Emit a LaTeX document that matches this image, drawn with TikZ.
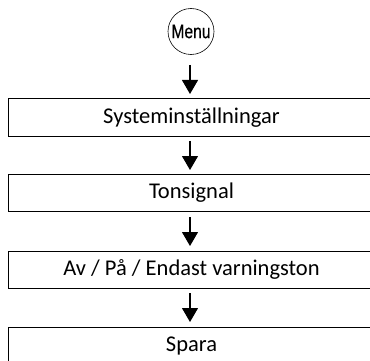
\documentclass[tikz,border=0pt]{standalone}
\usepackage{fontspec}
\usepackage{graphicx}
\setmainfont{Carlito}
\newfontfamily\menufont[FakeBold=0.5]{Liberation Sans}
\usetikzlibrary{arrows.meta}
\newcommand{\boxlabel}[1]{\raisebox{-2pt}{#1}}
\tikzset{
  x=1pt,y=-1pt,
  flowbox/.style={draw=black,line width=0.8pt,minimum width=366pt,minimum height=37.5pt,inner sep=0pt,font=\fontsize{22.5}{24}\selectfont,text=black},
  menunode/.style={circle,draw=black,line width=0.6pt,minimum size=46pt,inner sep=0pt,font=\menufont\fontsize{19.5}{22}\selectfont},
  flowarrow/.style={draw=black,line width=1.1pt,-{Triangle[length=14pt,width=16pt]}}
}
\begin{document}
\begin{tikzpicture}
\useasboundingbox (0,0) rectangle (370,361);
\node[menunode] (menu) at (191,31.5) {\scalebox{0.8}[1]{Menu}};
\node[flowbox] (a) at (191.5,117.2) {\boxlabel{Systeminställningar}};
\node[flowbox] (b) at (191.5,193) {\boxlabel{Tonsignal}};
\node[flowbox] (c) at (191.5,269.7) {Av / På / Endast varningston};
\node[flowbox] (d) at (191.5,346) {\boxlabel{Spara}};
\coordinate (s1) at (190,65);
\coordinate (e1) at (190,94);
\coordinate (s2) at (190,141);
\coordinate (e2) at (190,170);
\coordinate (s3) at (190,217);
\coordinate (e3) at (190,246);
\coordinate (s4) at (190,293);
\coordinate (e4) at (190,322);
\draw[flowarrow] (s1) -- (e1);
\draw[flowarrow] (s2) -- (e2);
\draw[flowarrow] (s3) -- (e3);
\draw[flowarrow] (s4) -- (e4);
\end{tikzpicture}
\end{document}
